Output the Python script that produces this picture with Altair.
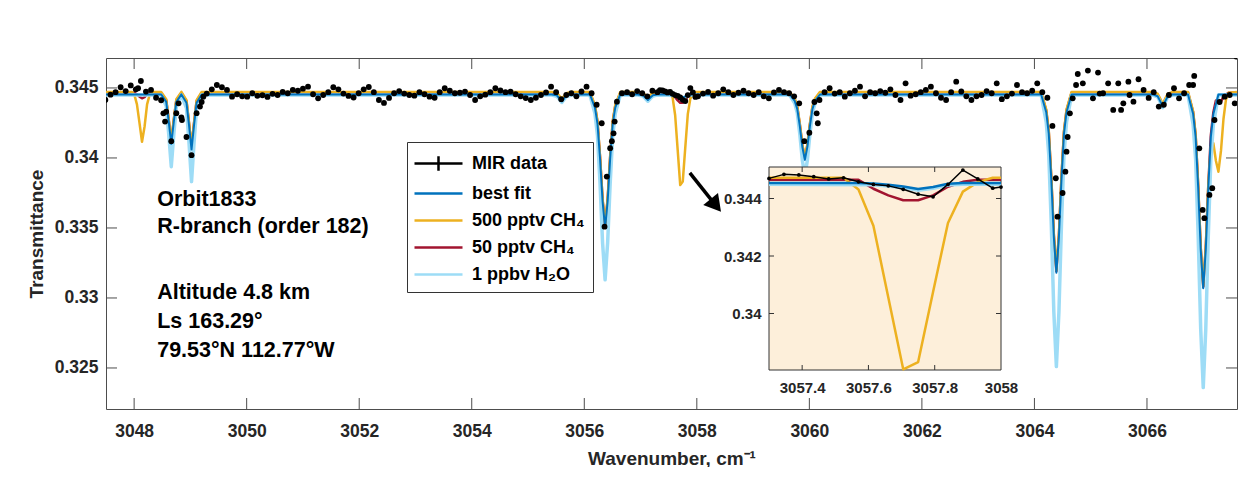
import altair as alt
import pandas as pd

# ---------------- values ----------------
series_names = ["MIR data", "best fit", "500 pptv CH\u2084", "50 pptv CH\u2084", "1 ppbv H\u2082O"]
series_colors = ["#000000", "#0072BD", "#EDB120", "#A2142F", "#9DDCF6"]
legend_symbols = ["M-2,0H2M0,-0.6V0.6", "M-2,0H2", "M-2,0H2", "M-2,0H2", "M-2,0H2"]

# MIR measured spectrum (main panel)
mir_wn = [
    3047.49, 3047.58, 3047.67, 3047.76, 3047.85, 3047.94, 3048.03, 3048.12, 3048.21, 3048.30,
    3048.39, 3048.48, 3048.57, 3048.66, 3048.75, 3048.84, 3048.93, 3049.02, 3049.11, 3049.20,
    3049.29, 3049.38, 3049.47, 3049.56, 3049.65, 3049.74, 3049.83, 3049.92, 3050.01, 3050.10,
    3050.19, 3050.28, 3050.37, 3050.46, 3050.55, 3050.64, 3050.73, 3050.82, 3050.91, 3051.00,
    3051.09, 3051.18, 3051.27, 3051.36, 3051.45, 3051.54, 3051.63, 3051.72, 3051.81, 3051.90,
    3051.99, 3052.08, 3052.17, 3052.26, 3052.35, 3052.44, 3052.53, 3052.62, 3052.71, 3052.80,
    3052.89, 3052.98, 3053.07, 3053.16, 3053.25, 3053.34, 3053.43, 3053.52, 3053.61, 3053.70,
    3053.79, 3053.88, 3053.97, 3054.06, 3054.15, 3054.24, 3054.33, 3054.42, 3054.51, 3054.60,
    3054.69, 3054.78, 3054.87, 3054.96, 3055.05, 3055.14, 3055.23, 3055.32, 3055.41, 3055.50,
    3055.59, 3055.68, 3055.77, 3055.86, 3055.95, 3056.04, 3056.13, 3056.22, 3056.31, 3056.40,
    3056.49, 3056.58, 3056.67, 3056.76, 3056.85, 3056.94, 3057.03, 3057.12, 3057.21, 3057.30,
    3057.39, 3057.48, 3057.57, 3057.66, 3057.75, 3057.84, 3057.93, 3058.02, 3058.11, 3058.20,
    3058.29, 3058.38, 3058.47, 3058.56, 3058.65, 3058.74, 3058.83, 3058.92, 3059.01, 3059.10,
    3059.19, 3059.28, 3059.37, 3059.46, 3059.55, 3059.64, 3059.73, 3059.82, 3059.91, 3060.00,
    3060.09, 3060.18, 3060.27, 3060.36, 3060.45, 3060.54, 3060.63, 3060.72, 3060.81, 3060.90,
    3060.99, 3061.08, 3061.17, 3061.26, 3061.35, 3061.44, 3061.53, 3061.62, 3061.71, 3061.80,
    3061.89, 3061.98, 3062.07, 3062.16, 3062.25, 3062.34, 3062.43, 3062.52, 3062.61, 3062.70,
    3062.79, 3062.88, 3062.97, 3063.06, 3063.15, 3063.24, 3063.33, 3063.42, 3063.51, 3063.60,
    3063.69, 3063.78, 3063.87, 3063.96, 3064.05, 3064.14, 3064.23, 3064.32, 3064.41, 3064.50,
    3064.59, 3064.68, 3064.77, 3064.86, 3064.95, 3065.04, 3065.13, 3065.22, 3065.31, 3065.40,
    3065.49, 3065.58, 3065.67, 3065.76, 3065.85, 3065.94, 3066.03, 3066.12, 3066.21, 3066.30,
    3066.39, 3066.48, 3066.57, 3066.66, 3066.75, 3066.84, 3066.93, 3067.02, 3067.11, 3067.20,
    3067.29, 3067.38, 3067.47, 3067.56,
]
mir_tr = [
    0.34414, 0.34452, 0.34470, 0.34505, 0.34478, 0.34518, 0.34490, 0.34550, 0.34474, 0.34486,
    0.34430, 0.34412, 0.34330, 0.34120, 0.34320, 0.34290, 0.34150, 0.34020, 0.34320, 0.34400,
    0.34460, 0.34490, 0.34521, 0.34505, 0.34486, 0.34438, 0.34455, 0.34440, 0.34438, 0.34462,
    0.34444, 0.34448, 0.34436, 0.34458, 0.34450, 0.34472, 0.34462, 0.34486, 0.34480, 0.34495,
    0.34509, 0.34455, 0.34426, 0.34450, 0.34470, 0.34505, 0.34490, 0.34460, 0.34443, 0.34432,
    0.34462, 0.34490, 0.34507, 0.34470, 0.34414, 0.34393, 0.34429, 0.34462, 0.34478, 0.34460,
    0.34450, 0.34445, 0.34470, 0.34455, 0.34438, 0.34430, 0.34470, 0.34498, 0.34480, 0.34462,
    0.34466, 0.34474, 0.34450, 0.34414, 0.34440, 0.34452, 0.34470, 0.34498, 0.34482, 0.34470,
    0.34474, 0.34455, 0.34440, 0.34428, 0.34414, 0.34430, 0.34450, 0.34468, 0.34509, 0.34470,
    0.34420, 0.34450, 0.34462, 0.34440, 0.34475, 0.34509, 0.34462, 0.34380, 0.34248, 0.33867,
    0.34120, 0.34402, 0.34462, 0.34470, 0.34455, 0.34478, 0.34462, 0.34440, 0.34480, 0.34470,
    0.34482, 0.34468, 0.34458, 0.34444, 0.34415, 0.34449, 0.34468, 0.34440, 0.34460, 0.34472,
    0.34445, 0.34462, 0.34490, 0.34470, 0.34450, 0.34466, 0.34480, 0.34462, 0.34450, 0.34470,
    0.34440, 0.34426, 0.34468, 0.34486, 0.34470, 0.34462, 0.34440, 0.34390, 0.34120, 0.34180,
    0.34400, 0.34414, 0.34470, 0.34498, 0.34460, 0.34470, 0.34438, 0.34462, 0.34480, 0.34509,
    0.34440, 0.34470, 0.34462, 0.34478, 0.34466, 0.34490, 0.34450, 0.34414, 0.34533, 0.34445,
    0.34455, 0.34470, 0.34486, 0.34509, 0.34462, 0.34430, 0.34414, 0.34470, 0.34545, 0.34475,
    0.34440, 0.34414, 0.34440, 0.34450, 0.34478, 0.34462, 0.34533, 0.34420, 0.34440, 0.34460,
    0.34521, 0.34470, 0.34462, 0.34480, 0.34533, 0.34470, 0.34430, 0.34229, 0.33581, 0.33750,
    0.34150, 0.34426, 0.34600, 0.34533, 0.34624, 0.34426, 0.34610, 0.34462, 0.34533, 0.34343,
    0.34533, 0.34390, 0.34545, 0.34402, 0.34562, 0.34486, 0.34429, 0.34470, 0.34367, 0.34380,
    0.34450, 0.34498, 0.34426, 0.34462, 0.34521, 0.34586, 0.34069, 0.33570, 0.33736, 0.34271,
    0.34400, 0.34438, 0.34450, 0.34390,
]
# additional measured points (line flanks and scattered points)
mir_extra_wn = [3048.07, 3048.52, 3048.55, 3048.79, 3048.85, 3049.17, 3049.23,
                3056.36, 3056.46, 3056.52, 3056.54, 3060.13, 3060.15,
                3064.38, 3064.55, 3064.57, 3064.63, 3064.74, 3065.16, 3065.54, 3065.69,
                3066.82, 3066.99, 3067.16, 3067.59,
                3057.345, 3057.435, 3057.525, 3057.615, 3057.705, 3057.795, 3057.885, 3057.975]
mir_extra_tr = [0.34498, 0.34319, 0.34260, 0.34390, 0.34271, 0.34367, 0.34438,
                0.33509, 0.34070, 0.34176, 0.34260, 0.34319, 0.34248,
                0.33855, 0.33902, 0.34045, 0.34319, 0.34521, 0.34460, 0.34343, 0.34450,
                0.34521, 0.33629, 0.33784, 0.34724,
                0.34484, 0.34476, 0.34472, 0.34449, 0.34432, 0.34406, 0.34499, 0.34436]

# MIR data shown in the zoom inset (full sampling)
inset_mir_wn = [3057.300, 3057.345, 3057.390, 3057.435, 3057.480, 3057.525, 3057.570, 3057.615,
                3057.660, 3057.705, 3057.750, 3057.795, 3057.840, 3057.885, 3057.930, 3057.975, 3058.000]
inset_mir_tr = [0.34470, 0.34484, 0.34482, 0.34476, 0.34468, 0.34472, 0.34458, 0.34449,
                0.34444, 0.34432, 0.34415, 0.34406, 0.34449, 0.34499, 0.34468, 0.34436, 0.34440]

# best fit
fit_pts = [
    (3047.50, 0.34454), (3048.48, 0.34454), (3048.57, 0.34401), (3048.615, 0.34259), (3048.66, 0.34100),
    (3048.705, 0.34259), (3048.75, 0.34401), (3048.84, 0.34454), (3048.93, 0.34395), (3048.975, 0.34237),
    (3049.02, 0.34060), (3049.065, 0.34237), (3049.11, 0.34395), (3049.20, 0.34454),
    (3055.42, 0.34454), (3055.51, 0.34447), (3055.555, 0.34427), (3055.60, 0.34404), (3055.645, 0.34427),
    (3055.69, 0.34447), (3055.78, 0.34454),
    (3056.10, 0.34454), (3056.19, 0.34359), (3056.235, 0.34244), (3056.28, 0.33996), (3056.325, 0.33691),
    (3056.37, 0.33500), (3056.415, 0.33691), (3056.46, 0.33996), (3056.505, 0.34244), (3056.55, 0.34359),
    (3056.64, 0.34454),
    (3056.95, 0.34454), (3057.04, 0.34448), (3057.085, 0.34432), (3057.13, 0.34414), (3057.175, 0.34432),
    (3057.22, 0.34448), (3057.30, 0.34454),
    (3057.57, 0.34454), (3057.615, 0.34452), (3057.66, 0.34448), (3057.705, 0.34442), (3057.75, 0.34433),
    (3057.795, 0.34440), (3057.84, 0.34451), (3057.885, 0.34454), (3058.00, 0.34454),
    (3059.65, 0.34454), (3059.74, 0.34407), (3059.785, 0.34351), (3059.83, 0.34229), (3059.875, 0.34080),
    (3059.92, 0.33986), (3059.965, 0.34080), (3060.01, 0.34229), (3060.055, 0.34351), (3060.10, 0.34407),
    (3060.19, 0.34454),
    (3064.12, 0.34454), (3064.21, 0.34327), (3064.255, 0.34174), (3064.30, 0.33843), (3064.345, 0.33435),
    (3064.39, 0.33180), (3064.435, 0.33435), (3064.48, 0.33843), (3064.525, 0.34174), (3064.57, 0.34327),
    (3064.66, 0.34454),
    (3066.10, 0.34454), (3066.19, 0.34441), (3066.235, 0.34406), (3066.28, 0.34367), (3066.325, 0.34406),
    (3066.37, 0.34441), (3066.46, 0.34454),
    (3066.73, 0.34454), (3066.82, 0.34316), (3066.865, 0.34150), (3066.91, 0.33790), (3066.955, 0.33347),
    (3067.00, 0.33070), (3067.045, 0.33347), (3067.09, 0.33790), (3067.135, 0.34150), (3067.18, 0.34316),
    (3067.27, 0.34454), (3067.60, 0.34454),
]
# 500 pptv CH4
ch4_500_pts = [
    (3047.50, 0.34472), (3047.96, 0.34472), (3048.005, 0.34451), (3048.05, 0.34383), (3048.095, 0.34251),
    (3048.14, 0.34116), (3048.185, 0.34223), (3048.23, 0.34383), (3048.275, 0.34451), (3048.35, 0.34472),
    (3048.48, 0.34472), (3048.57, 0.34419), (3048.615, 0.34277), (3048.66, 0.34118), (3048.705, 0.34277),
    (3048.75, 0.34419), (3048.84, 0.34472), (3048.93, 0.34413), (3048.975, 0.34255), (3049.02, 0.34078),
    (3049.065, 0.34255), (3049.11, 0.34413), (3049.20, 0.34472),
    (3055.42, 0.34472), (3055.51, 0.34465), (3055.555, 0.34445), (3055.60, 0.34422), (3055.645, 0.34445),
    (3055.69, 0.34465), (3055.78, 0.34472),
    (3056.10, 0.34472), (3056.19, 0.34377), (3056.235, 0.34262), (3056.28, 0.34014), (3056.325, 0.33709),
    (3056.37, 0.33518), (3056.415, 0.33709), (3056.46, 0.34014), (3056.505, 0.34262), (3056.55, 0.34377),
    (3056.64, 0.34472),
    (3056.95, 0.34472), (3057.04, 0.34466), (3057.085, 0.34450), (3057.13, 0.34432), (3057.175, 0.34450),
    (3057.22, 0.34466), (3057.30, 0.34472),
    (3057.525, 0.34472), (3057.57, 0.34431), (3057.615, 0.34305), (3057.66, 0.34056), (3057.705, 0.33806),
    (3057.75, 0.33831), (3057.795, 0.34075), (3057.84, 0.34315), (3057.885, 0.34424), (3057.93, 0.34457),
    (3057.975, 0.34472), (3058.00, 0.34472),
    (3059.65, 0.34472), (3059.74, 0.34425), (3059.785, 0.34369), (3059.83, 0.34247), (3059.875, 0.34098),
    (3059.92, 0.34004), (3059.965, 0.34098), (3060.01, 0.34247), (3060.055, 0.34369), (3060.10, 0.34425),
    (3060.19, 0.34472),
    (3064.12, 0.34472), (3064.21, 0.34345), (3064.255, 0.34192), (3064.30, 0.33861), (3064.345, 0.33453),
    (3064.39, 0.33198), (3064.435, 0.33453), (3064.48, 0.33861), (3064.525, 0.34192), (3064.57, 0.34345),
    (3064.66, 0.34472),
    (3066.10, 0.34472), (3066.19, 0.34459), (3066.235, 0.34424), (3066.28, 0.34385), (3066.325, 0.34424),
    (3066.37, 0.34459), (3066.46, 0.34472),
    (3066.73, 0.34472), (3066.82, 0.34334), (3066.865, 0.34168), (3066.91, 0.33808), (3066.955, 0.33365),
    (3067.00, 0.33088), (3067.045, 0.33365), (3067.09, 0.33808), (3067.135, 0.34080), (3067.18, 0.34105),
    (3067.225, 0.33980), (3067.27, 0.33902), (3067.315, 0.34050), (3067.36, 0.34280), (3067.405, 0.34420),
    (3067.45, 0.34465), (3067.60, 0.34472),
]
# 50 pptv CH4
ch4_50_pts = [
    (3047.50, 0.34465), (3048.005, 0.34465), (3048.05, 0.34455), (3048.095, 0.34438), (3048.14, 0.34426),
    (3048.185, 0.34434), (3048.23, 0.34455), (3048.30, 0.34465),
    (3048.48, 0.34465), (3048.57, 0.34412), (3048.615, 0.34270), (3048.66, 0.34111), (3048.705, 0.34270),
    (3048.75, 0.34412), (3048.84, 0.34465), (3048.93, 0.34406), (3048.975, 0.34248), (3049.02, 0.34071),
    (3049.065, 0.34248), (3049.11, 0.34406), (3049.20, 0.34465),
    (3055.42, 0.34465), (3055.51, 0.34458), (3055.555, 0.34438), (3055.60, 0.34415), (3055.645, 0.34438),
    (3055.69, 0.34458), (3055.78, 0.34465),
    (3056.10, 0.34465), (3056.19, 0.34370), (3056.235, 0.34255), (3056.28, 0.34007), (3056.325, 0.33702),
    (3056.37, 0.33511), (3056.415, 0.33702), (3056.46, 0.34007), (3056.505, 0.34255), (3056.55, 0.34370),
    (3056.64, 0.34465),
    (3056.95, 0.34465), (3057.04, 0.34459), (3057.085, 0.34443), (3057.13, 0.34425), (3057.175, 0.34443),
    (3057.22, 0.34459), (3057.30, 0.34465),
    (3057.57, 0.34465), (3057.615, 0.34434), (3057.66, 0.34411), (3057.705, 0.34394), (3057.75, 0.34394),
    (3057.795, 0.34411), (3057.84, 0.34441), (3057.885, 0.34458), (3057.93, 0.34465), (3058.00, 0.34465),
    (3059.65, 0.34465), (3059.74, 0.34418), (3059.785, 0.34362), (3059.83, 0.34240), (3059.875, 0.34091),
    (3059.92, 0.33997), (3059.965, 0.34091), (3060.01, 0.34240), (3060.055, 0.34362), (3060.10, 0.34418),
    (3060.19, 0.34465),
    (3064.12, 0.34465), (3064.21, 0.34338), (3064.255, 0.34185), (3064.30, 0.33854), (3064.345, 0.33446),
    (3064.39, 0.33191), (3064.435, 0.33446), (3064.48, 0.33854), (3064.525, 0.34185), (3064.57, 0.34338),
    (3064.66, 0.34465),
    (3066.10, 0.34465), (3066.19, 0.34452), (3066.235, 0.34417), (3066.28, 0.34378), (3066.325, 0.34417),
    (3066.37, 0.34452), (3066.46, 0.34465),
    (3066.73, 0.34465), (3066.82, 0.34327), (3066.865, 0.34161), (3066.91, 0.33801), (3066.955, 0.33358),
    (3067.00, 0.33081), (3067.045, 0.33358), (3067.09, 0.33801), (3067.135, 0.34161), (3067.18, 0.34327),
    (3067.225, 0.34410), (3067.27, 0.34390), (3067.315, 0.34400), (3067.36, 0.34440), (3067.45, 0.34465),
    (3067.60, 0.34465),
]
# 1 ppbv H2O
h2o_pts = [
    (3047.50, 0.34449), (3048.48, 0.34449), (3048.57, 0.34372), (3048.615, 0.34168), (3048.66, 0.33938),
    (3048.705, 0.34168), (3048.75, 0.34372), (3048.84, 0.34449), (3048.93, 0.34356), (3048.975, 0.34109),
    (3049.02, 0.33831), (3049.065, 0.34109), (3049.11, 0.34356), (3049.20, 0.34449),
    (3055.42, 0.34449), (3055.51, 0.34441), (3055.555, 0.34420), (3055.60, 0.34396), (3055.645, 0.34420),
    (3055.69, 0.34441), (3055.78, 0.34449),
    (3056.10, 0.34449), (3056.19, 0.34317), (3056.235, 0.34159), (3056.28, 0.33816), (3056.325, 0.33394),
    (3056.37, 0.33130), (3056.415, 0.33394), (3056.46, 0.33816), (3056.505, 0.34159), (3056.55, 0.34317),
    (3056.64, 0.34449),
    (3056.95, 0.34449), (3057.04, 0.34443), (3057.085, 0.34425), (3057.13, 0.34405), (3057.175, 0.34425),
    (3057.22, 0.34443), (3057.30, 0.34449),
    (3057.615, 0.34447), (3057.66, 0.34443), (3057.705, 0.34437), (3057.75, 0.34428), (3057.795, 0.34435),
    (3057.84, 0.34446), (3057.885, 0.34449), (3058.00, 0.34449),
    (3059.65, 0.34449), (3059.74, 0.34391), (3059.785, 0.34322), (3059.83, 0.34171), (3059.875, 0.33986),
    (3059.92, 0.33870), (3059.965, 0.33986), (3060.01, 0.34171), (3060.055, 0.34322), (3060.10, 0.34391),
    (3060.19, 0.34449),
    (3064.12, 0.34449), (3064.21, 0.34255), (3064.255, 0.34022), (3064.30, 0.33518), (3064.345, 0.32898),
    (3064.39, 0.32510), (3064.435, 0.32898), (3064.48, 0.33518), (3064.525, 0.34022), (3064.57, 0.34255),
    (3064.66, 0.34449),
    (3066.10, 0.34449), (3066.19, 0.34436), (3066.235, 0.34400), (3066.28, 0.34360), (3066.325, 0.34400),
    (3066.37, 0.34436), (3066.46, 0.34449),
    (3066.73, 0.34449), (3066.82, 0.34240), (3066.865, 0.33989), (3066.91, 0.33446), (3066.955, 0.32778),
    (3067.00, 0.32360), (3067.045, 0.32778), (3067.09, 0.33446), (3067.135, 0.33989), (3067.18, 0.34240),
    (3067.27, 0.34449), (3067.60, 0.34449),
]

x_ticks = [3048, 3050, 3052, 3054, 3056, 3058, 3060, 3062, 3064, 3066]
y_ticks = [0.325, 0.33, 0.335, 0.34, 0.345]
inset_x_ticks = [3057.4, 3057.6, 3057.8, 3058.0]
inset_y_ticks = [0.34, 0.342, 0.344]

note_lines = ["Orbit1833", "R-branch (order 182)", "Altitude 4.8 km", "Ls 163.29\u00b0", "79.53\u00b0N 112.77\u00b0W"]
note_wn = [3048.41, 3048.41, 3048.41, 3048.41, 3048.41]
note_tr = [0.33700, 0.33507, 0.33036, 0.32829, 0.32621]

# ---------------- layout / style ----------------
FONT = "Liberation Sans"
INK = "#262626"
FRAME = "#4d4d4d"
W, H = 1131, 351
main_x_domain = [3047.5, 3067.6]
main_y_domain = [0.32207, 0.34714]
inset_x_domain = [3057.3, 3058.0]
inset_y_domain = [0.338035, 0.345096]
IN_L, IN_R, IN_T, IN_B = 663, 895, 109, 312

xs = alt.Scale(domain=main_x_domain, nice=False, zero=False)
ys = alt.Scale(domain=main_y_domain, nice=False, zero=False)
xs_in = alt.Scale(domain=inset_x_domain, range=[IN_L, IN_R], nice=False, zero=False)
ys_in = alt.Scale(domain=inset_y_domain, range=[IN_B, IN_T], nice=False, zero=False)
cs = alt.Scale(domain=series_names, range=series_colors)
ss = alt.Scale(domain=series_names, range=legend_symbols)

legend = alt.Legend(
    title=None, orient="none", legendX=301, legendY=84,
    symbolType="M-2,0H2", symbolSize=576, symbolStrokeWidth=2.5, symbolOffset=10,
    symbolFillColor="transparent",
    labelFont=FONT, labelFontSize=18, labelFontWeight="bold", labelColor="#000000",
    labelOffset=20, rowPadding=4, padding=8,
    fillColor="white", strokeColor="#333333",
)


def pts_df(pts, name):
    return pd.DataFrame({"wn": [p[0] for p in pts], "tr": [p[1] for p in pts], "series": name})


fit_df = pts_df(fit_pts, series_names[1])
ch4_500_df = pts_df(ch4_500_pts, series_names[2])
ch4_50_df = pts_df(ch4_50_pts, series_names[3])
h2o_df = pts_df(h2o_pts, series_names[4])
mir_df = pd.DataFrame({"wn": mir_wn + mir_extra_wn, "tr": mir_tr + mir_extra_tr})
inset_mir_df = pd.DataFrame({"wn": inset_mir_wn, "tr": inset_mir_tr, "series": series_names[0]})

x_axis = alt.Axis(values=x_ticks, format="d", title="Wavenumber, cm\u207b\u00b9", orient="bottom", grid=False,
                  domain=False, tickSize=0, labelPadding=13, labelFlush=False,
                  labelFontSize=17.5, labelFontWeight="bold", labelColor=INK, labelFont=FONT,
                  titleFontSize=19, titleFontWeight="bold", titleColor=INK, titleFont=FONT,
                  titleX=W / 2, titleY=49, titleBaseline="middle")
y_axis = alt.Axis(values=y_ticks, format=".3~f", title="Transmittance", orient="left", grid=False,
                  domain=False, tickSize=0, labelPadding=8, labelFlush=False,
                  labelFontSize=17.5, labelFontWeight="bold", labelColor=INK, labelFont=FONT,
                  titleFontSize=19, titleFontWeight="bold", titleColor=INK, titleFont=FONT,
                  titleX=-70, titleY=H / 2, titleAngle=270, titleAlign="center", titleBaseline="middle")


def model_line(df, width, first=False):
    return alt.Chart(df).mark_line(strokeWidth=width, clip=True, strokeJoin="round").encode(
        x=alt.X("wn:Q", scale=xs, axis=x_axis if first else None),
        y=alt.Y("tr:Q", scale=ys, axis=y_axis if first else None),
        color=alt.Color("series:N", scale=cs, legend=legend),
    )


# ---- main panel ----
red_l = model_line(ch4_50_df, 2.5, first=True)
orange_l = model_line(ch4_500_df, 2.5)
h2o_l = model_line(h2o_df, 3.5)
fit_l = model_line(fit_df, 2.0)

dots = alt.Chart(mir_df).mark_circle(size=34, color="#000000", opacity=1, clip=True).encode(
    x=alt.X("wn:Q", scale=xs, axis=None), y=alt.Y("tr:Q", scale=ys, axis=None))

# legend-key carrier: one entry per series, placed outside the x domain (clipped, never visible)
key_df = pd.DataFrame({"series": series_names, "wn": [3040.0] * 5, "tr": [0.34] * 5})
legend_keys = alt.Chart(key_df).mark_point(filled=False, strokeWidth=2.5, clip=True, opacity=1).encode(
    x=alt.X("wn:Q", scale=xs, axis=None), y=alt.Y("tr:Q", scale=ys, axis=None),
    color=alt.Color("series:N", scale=cs, legend=legend),
    shape=alt.Shape("series:N", scale=ss, legend=legend),
)

xt = pd.DataFrame({"v": x_ticks})
yt = pd.DataFrame({"v": y_ticks})
tick_b = alt.Chart(xt).mark_rule(color=FRAME).encode(
    x=alt.X("v:Q", scale=xs, axis=None), y=alt.value(H), y2=alt.value(H - 11))
tick_t = alt.Chart(xt).mark_rule(color=FRAME).encode(
    x=alt.X("v:Q", scale=xs, axis=None), y=alt.value(0), y2=alt.value(11))
tick_l = alt.Chart(yt).mark_rule(color=FRAME).encode(
    y=alt.Y("v:Q", scale=ys, axis=None), x=alt.value(0), x2=alt.value(11))
tick_r = alt.Chart(yt).mark_rule(color=FRAME).encode(
    y=alt.Y("v:Q", scale=ys, axis=None), x=alt.value(W), x2=alt.value(W - 11))

one = pd.DataFrame({"a": [0]})
arrow_line = alt.Chart(one).mark_rule(strokeWidth=3.5, color="#000000").encode(
    x=alt.XDatum(3057.876, scale=xs, axis=None), y=alt.YDatum(0.33893, scale=ys, axis=None),
    x2=alt.X2Datum(3058.307), y2=alt.Y2Datum(0.33676))
arrow_head = alt.Chart(one).mark_point(
    shape="triangle", angle=141, size=360, filled=True, color="#000000", opacity=1).encode(
    x=alt.XDatum(3058.307, scale=xs, axis=None), y=alt.YDatum(0.33676, scale=ys, axis=None))

notes_df = pd.DataFrame({"text": note_lines, "wn": note_wn, "tr": note_tr})
notes = alt.Chart(notes_df).mark_text(
    align="left", baseline="middle", font=FONT, fontSize=21.5, fontWeight="bold", color="#000000").encode(
    x=alt.X("wn:Q", scale=xs, axis=None), y=alt.Y("tr:Q", scale=ys, axis=None), text="text:N")

# ---- zoom inset ----
in_filter = (alt.datum.wn >= inset_x_domain[0]) & (alt.datum.wn <= inset_x_domain[1])
in_x_axis = alt.Axis(values=inset_x_ticks, format=".1~f", orient="bottom", offset=-(H - IN_B),
                     title=None, grid=False, domain=False, tickSize=0, labelPadding=10, labelFlush=False,
                     labelFontSize=15, labelFontWeight="bold", labelColor=INK, labelFont=FONT)
in_y_axis = alt.Axis(values=inset_y_ticks, format=".3~f", orient="left", offset=-IN_L,
                     title=None, grid=False, domain=False, tickSize=0, labelPadding=8, labelFlush=False,
                     labelFontSize=15, labelFontWeight="bold", labelColor=INK, labelFont=FONT)

in_bg = alt.Chart(one).mark_rect(fill="#FDEFDA", stroke="#333333", strokeWidth=1).encode(
    x=alt.XDatum(inset_x_domain[0], scale=xs_in, axis=None),
    x2=alt.X2Datum(inset_x_domain[1]),
    y=alt.YDatum(inset_y_domain[0], scale=ys_in, axis=None),
    y2=alt.Y2Datum(inset_y_domain[1]))


def inset_line(df, width, first=False):
    return alt.Chart(df).transform_filter(in_filter).mark_line(
        strokeWidth=width, strokeJoin="round").encode(
        x=alt.X("wn:Q", scale=xs_in, axis=in_x_axis if first else None),
        y=alt.Y("tr:Q", scale=ys_in, axis=in_y_axis if first else None),
        color=alt.Color("series:N", scale=cs, legend=legend),
    )


in_red = inset_line(ch4_50_df, 2.5, first=True)
in_orange = inset_line(ch4_500_df, 2.5)
in_h2o = inset_line(h2o_df, 3.0)
in_fit = inset_line(fit_df, 2.5)
in_mir = inset_line(inset_mir_df, 1.5)
in_mir_pts = alt.Chart(inset_mir_df).mark_circle(size=14, color="#000000", opacity=1).encode(
    x=alt.X("wn:Q", scale=xs_in, axis=None), y=alt.Y("tr:Q", scale=ys_in, axis=None))

ixt = pd.DataFrame({"v": inset_x_ticks[:-1]})
iyt = pd.DataFrame({"v": inset_y_ticks})
in_tick_b = alt.Chart(ixt).mark_rule(color="#333333").encode(
    x=alt.X("v:Q", scale=xs_in, axis=None), y=alt.value(IN_B), y2=alt.value(IN_B - 5))
in_tick_t = alt.Chart(ixt).mark_rule(color="#333333").encode(
    x=alt.X("v:Q", scale=xs_in, axis=None), y=alt.value(IN_T), y2=alt.value(IN_T + 5))
in_tick_l = alt.Chart(iyt).mark_rule(color="#333333").encode(
    y=alt.Y("v:Q", scale=ys_in, axis=None), x=alt.value(IN_L), x2=alt.value(IN_L + 5))
in_tick_r = alt.Chart(iyt).mark_rule(color="#333333").encode(
    y=alt.Y("v:Q", scale=ys_in, axis=None), x=alt.value(IN_R), x2=alt.value(IN_R - 5))

chart = alt.layer(
    red_l, orange_l, h2o_l, fit_l, dots, legend_keys, tick_b, tick_t, tick_l, tick_r,
    arrow_line, arrow_head, notes,
    in_bg, in_red, in_orange, in_h2o, in_fit, in_mir, in_mir_pts, in_tick_b, in_tick_t, in_tick_l, in_tick_r,
).resolve_scale(x="independent", y="independent").properties(
    width=W, height=H,
    padding={"left": 98, "top": 50, "right": 2, "bottom": 58},
    autosize=alt.AutoSizeParams(type="none"),
    background="white",
).configure_view(stroke=FRAME, strokeWidth=1)

chart.save("out.html", embed_options={"renderer": "svg", "actions": False})
